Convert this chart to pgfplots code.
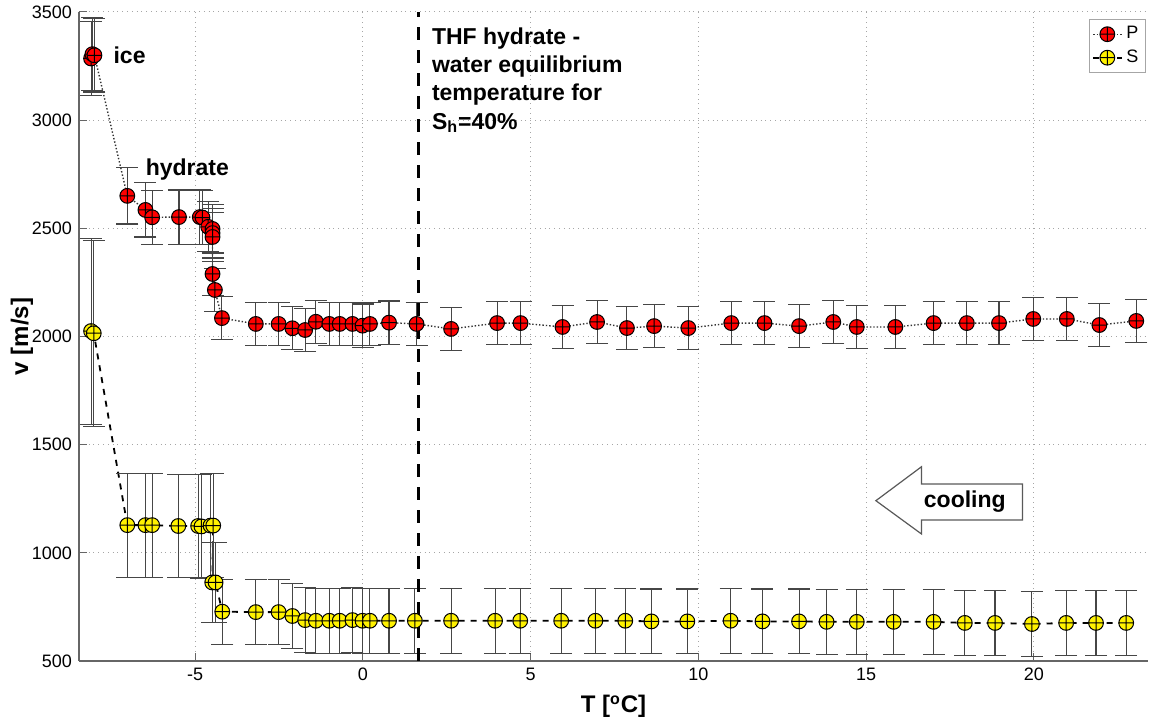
\documentclass[border=0pt]{standalone}
\usepackage{fontspec}
\setmainfont{Liberation Sans}
\usepackage{pgfplots}
\usepackage{pgfplotstable}
\pgfplotsset{compat=1.18}

\pgfplotstableread{
x y e
-8.10 3285 170
-8.06 3305 170
-8.00 3300 170
-7.02 2650 130
-6.48 2585 125
-6.28 2551 125
-5.48 2552 125
-4.86 2552 125
-4.78 2550 125
-4.61 2507 115
-4.48 2497 115
-4.48 2478 115
-4.48 2460 115
-4.48 2289 100
-4.41 2215 100
-4.20 2085 100
-3.19 2058 100
-2.51 2058 100
-2.10 2038 100
-1.72 2030 100
-1.40 2068 100
-1.00 2058 100
-0.69 2058 100
-0.31 2058 100
-0.01 2050 100
0.21 2058 100
0.78 2064 100
1.60 2058 100
2.63 2035 100
4.00 2062 100
4.70 2062 100
5.95 2044 100
6.98 2067 100
7.87 2039 100
8.68 2048 100
9.70 2039 100
10.98 2062 100
11.97 2062 100
13.00 2048 100
14.02 2067 100
14.72 2044 100
15.87 2044 100
17.01 2062 100
18.00 2062 100
18.96 2062 100
19.98 2081 100
20.98 2081 100
21.95 2053 100
23.05 2072 100
}\Pdata

\pgfplotstableread{
x y e
-8.10 2025 430
-8.02 2015 430
-7.02 1128 240
-6.48 1128 240
-6.28 1128 240
-5.50 1124 240
-4.91 1124 240
-4.81 1122 240
-4.54 1126 240
-4.46 1126 240
-4.49 863 185
-4.39 863 185
-4.19 728 150
-3.19 726 150
-2.51 726 150
-2.10 708 150
-1.72 689 150
-1.40 686 150
-1.00 686 150
-0.69 686 150
-0.31 689 150
-0.01 686 150
0.21 686 150
0.78 686 150
1.55 686 150
2.63 686 150
3.94 686 150
4.69 686 150
5.91 686 150
6.93 686 150
7.82 686 150
8.60 683 150
9.67 683 150
10.96 686 150
11.91 683 150
13.00 683 150
13.82 681 150
14.72 681 150
15.82 681 150
17.01 681 150
17.94 676 150
18.84 676 150
19.94 671 150
20.96 676 150
21.85 676 150
22.75 676 150
}\Sdata

\begin{document}
\begin{tikzpicture}
\useasboundingbox (-39.5pt,-32.5pt) rectangle (536pt,330.5pt);
\begin{axis}[
  scale only axis,
  width=534.5pt, height=324.5pt,
  xmin=-8.46, xmax=23.40,
  ymin=500, ymax=3500,
  xtick={-5,0,5,10,15,20},
  ytick={500,1000,1500,2000,2500,3000,3500},
  axis x line*=bottom, axis y line*=left,
  axis line style={draw=gray!80!black, line width=0.6pt},
  tick align=inside,
  major tick length=4pt,
  tick style={gray!80!black, line width=0.5pt},
  grid=major,
  major grid style={dotted, gray!70, line width=0.5pt},
  /pgf/number format/assume math mode=true,
  /pgf/number format/set thousands separator={},
  tick label style={font=\fontsize{9}{10}\selectfont},
  xlabel={\textbf{T [\textsuperscript{o}C]}},
  ylabel={\textbf{v [m/s]}},
  label style={font=\fontsize{12}{14}\selectfont},
  xlabel style={at={(axis description cs:0.5,-0.0703)}, anchor=center},
  ylabel style={at={(axis description cs:-0.0533,0.5)}, anchor=center},
  legend style={at={(axis description cs:0.998,0.989)}, anchor=north east,
    font=\fontsize{9}{10}\selectfont, draw=gray!70, fill=white,
    inner sep=1.5pt, row sep=0pt, cells={anchor=west}},
  legend image code/.code={\draw[mark repeat=2,mark phase=2] plot coordinates {(0cm,0cm) (0.25cm,0cm) (0.5cm,0cm)};},
]
\addplot[densely dotted, gray!40!black, line width=0.7pt,
  mark=oplus*, mark size=3.7pt,
  mark options={solid, fill=red, draw=black, line width=0.5pt},
  error bars/.cd, y dir=both, y explicit,
  error bar style={solid, gray!55!black, line width=0.55pt},
  error mark options={rotate=90, mark size=5.5pt, gray!55!black, line width=0.55pt}]
  table[x=x, y=y, y error=e] {\Pdata};
\addlegendentry{P}
\addplot[dashed, black, line width=0.9pt,
  mark=oplus*, mark size=3.7pt,
  mark options={solid, fill=yellow, draw=black, line width=0.5pt},
  error bars/.cd, y dir=both, y explicit,
  error bar style={solid, gray!55!black, line width=0.55pt},
  error mark options={rotate=90, mark size=5.5pt, gray!55!black, line width=0.55pt}]
  table[x=x, y=y, y error=e] {\Sdata};
\addlegendentry{S}

\addplot[forget plot, black, line width=1.6pt, dash pattern=on 6.5pt off 5pt] coordinates {(1.67,500) (1.67,3500)};

\node[anchor=base west, font=\fontsize{11.5}{14}\selectfont\bfseries] at (axis cs:-7.64,3260) {ice};
\node[anchor=base west, font=\fontsize{11.5}{14}\selectfont\bfseries] at (axis cs:-6.68,2743) {hydrate};
\node[anchor=north west, align=left, inner sep=0pt, font=\fontsize{11.5}{14.15}\selectfont\bfseries] at (axis cs:2.05,3430) {THF hydrate -\\water equilibrium\\temperature for\\S\textsubscript{h}=40\%};

\draw[gray!70!black, line width=0.6pt, fill=white] (axis cs:15.29,1241) -- (axis cs:16.65,1398) -- (axis cs:16.65,1318) -- (axis cs:19.66,1318) -- (axis cs:19.66,1152) -- (axis cs:16.65,1152) -- (axis cs:16.65,1087) -- cycle;
\node[anchor=center, font=\fontsize{11.5}{14}\selectfont\bfseries] at (axis cs:17.94,1236) {cooling};
\end{axis}
\end{tikzpicture}
\end{document}
